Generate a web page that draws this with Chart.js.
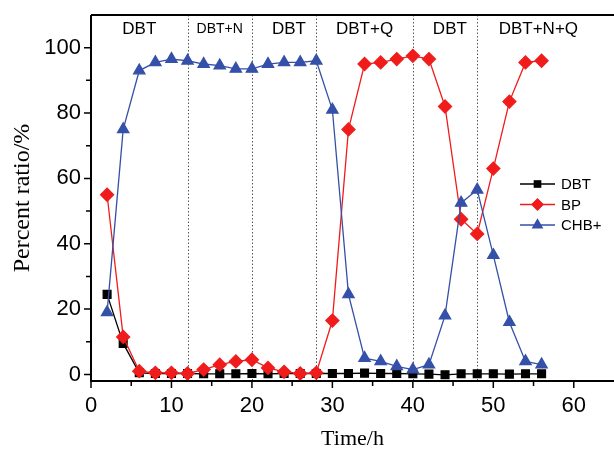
<!DOCTYPE html>
<html>
<head>
<meta charset="utf-8">
<script src="https://cdn.jsdelivr.net/npm/chart.js@4"></script>
<style>
  html, body { margin: 0; padding: 0; background: #fff; }
  canvas { display: block; }
</style>
</head>
<body>
<canvas id="myChart" width="614" height="452"></canvas>
<script>
// data
const hours = [2, 4, 6, 8, 10, 12, 14, 16, 18, 20, 22, 24, 26, 28, 30, 32, 34, 36, 38, 40, 42, 44, 46, 48, 50, 52, 54, 56];
const dbt = [24.5, 9.5, 0.5, 0.3, 0.3, 0.3, 0.2, 0.2, 0.2, 0.3, 0.2, 0.3, 0.3, 0.3, 0.3, 0.3, 0.4, 0.3, 0.3, 0.2, 0.1, -0.1, 0.2, 0.2, 0.2, 0.1, 0.2, 0.2];
const bp = [55, 11.5, 1, 0.5, 0.5, 0.3, 1.5, 3, 4, 4.5, 2, 0.8, 0.3, 0.5, 16.5, 75, 95, 95.5, 96.5, 97.5, 96.5, 82, 47.5, 43, 63, 83.5, 95.5, 96];
const chb = [19, 75, 93, 95.5, 96.5, 96, 95, 94.5, 93.5, 93.5, 95, 95.5, 95.5, 96, 81, 24.5, 5, 4, 2.5, 1.5, 3, 18, 52.5, 56.5, 36.5, 16, 4, 3];

const xTicks = [0, 5, 10, 15, 20, 25, 30, 35, 40, 45, 50, 55, 60];
const yTicks = [0, 10, 20, 30, 40, 50, 60, 70, 80, 90, 100];

// stage boundaries (h) and stage labels
const stageLines = [12, 20, 28, 40, 48];
const stageNames = ['DBT', 'DBT+N', 'DBT', 'DBT+Q', 'DBT', 'DBT+N+Q'];
const stageCenters = [6, 16, 24.6, 34, 44.6, 55.6];

const seriesNames = ['DBT', 'BP', 'CHB+'];

const RED = '#f01c1c';
const BLUE = '#3550a8';
const SANS = "'Liberation Sans', Arial, sans-serif";
const SERIF = "'Liberation Serif', 'Times New Roman', serif";

function pts(ys) {
  return hours.map((h, i) => ({ x: h, y: ys[i] }));
}

// frame, ticks, dotted stage lines, stage labels and legend
const extras = {
  id: 'extras',
  beforeDatasetsDraw(chart) {
    const { ctx, chartArea: a, scales: { x, y } } = chart;
    ctx.save();
    // dotted stage lines
    ctx.strokeStyle = '#555';
    ctx.lineWidth = 1;
    ctx.setLineDash([1.5, 2]);
    stageLines.forEach(v => {
      const px = Math.round(x.getPixelForValue(v)) + 0.5;
      ctx.beginPath();
      ctx.moveTo(px, a.top);
      ctx.lineTo(px, a.bottom);
      ctx.stroke();
    });
    ctx.setLineDash([]);
    // stage labels
    ctx.fillStyle = '#000';
    ctx.textAlign = 'center';
    ctx.textBaseline = 'middle';
    stageNames.forEach((name, i) => {
      ctx.font = (name === 'DBT+N' ? '14px ' : '17px ') + SANS;
      ctx.fillText(name, x.getPixelForValue(stageCenters[i]), 29);
    });
    ctx.restore();
  },
  afterDraw(chart) {
    const { ctx, chartArea: a, scales: { x, y } } = chart;
    ctx.save();
    ctx.strokeStyle = '#000';
    ctx.lineWidth = 2;
    // axes frame (left, bottom, top)
    ctx.beginPath();
    ctx.moveTo(a.left, a.top);
    ctx.lineTo(a.left, a.bottom);
    ctx.lineTo(a.right, a.bottom);
    ctx.moveTo(a.left, a.top);
    ctx.lineTo(a.right, a.top);
    ctx.stroke();
    // ticks, pointing outwards
    ctx.lineWidth = 1.5;
    ctx.beginPath();
    yTicks.forEach(v => {
      const py = y.getPixelForValue(v);
      const len = v % 20 === 0 ? 7 : 5;
      ctx.moveTo(a.left, py);
      ctx.lineTo(a.left - len, py);
    });
    xTicks.forEach(v => {
      const px = x.getPixelForValue(v);
      const len = v % 10 === 0 ? 7 : 5;
      ctx.moveTo(px, a.bottom);
      ctx.lineTo(px, a.bottom + len);
    });
    ctx.stroke();

    // legend
    const lx = 520, ly = 184, step = 20.5;
    chart.data.datasets.forEach((ds, i) => {
      const yy = ly + i * step;
      ctx.strokeStyle = ds.borderColor;
      ctx.lineWidth = 1.3;
      ctx.beginPath();
      ctx.moveTo(lx, yy);
      ctx.lineTo(lx + 35, yy);
      ctx.stroke();
      Chart.helpers.drawPoint(ctx, {
        pointStyle: ds.pointStyle,
        radius: ds.pointRadius - 1,
        borderWidth: 1
      }, lx + 17.5, yy);
      ctx.fillStyle = ds.pointBackgroundColor;
      ctx.fill();
      ctx.fillStyle = '#000';
      ctx.font = '15px ' + SANS;
      ctx.textAlign = 'left';
      ctx.textBaseline = 'middle';
      ctx.fillText(seriesNames[i], lx + 41, yy + 1);
    });
    ctx.restore();
  }
};

const ctx = document.getElementById('myChart').getContext('2d');

let myChart = new Chart(ctx, {
  type: 'line',
  data: {
    datasets: [
      {
        label: seriesNames[0],
        data: pts(dbt),
        borderColor: '#000',
        backgroundColor: '#000',
        pointBackgroundColor: '#000',
        pointBorderColor: '#000',
        pointStyle: 'rect',
        pointRadius: 5.5,
        borderWidth: 1.3,
        order: 3
      },
      {
        label: seriesNames[1],
        data: pts(bp),
        borderColor: RED,
        backgroundColor: RED,
        pointBackgroundColor: RED,
        pointBorderColor: RED,
        pointStyle: 'rectRot',
        pointRadius: 6.5,
        borderWidth: 1.3,
        order: 2
      },
      {
        label: seriesNames[2],
        data: pts(chb),
        borderColor: BLUE,
        backgroundColor: BLUE,
        pointBackgroundColor: BLUE,
        pointBorderColor: BLUE,
        pointStyle: 'triangle',
        pointRadius: 6.5,
        borderWidth: 1.3,
        order: 1
      }
    ]
  },
  options: {
    responsive: false,
    animation: false,
    layout: { autoPadding: false, padding: { top: 15, right: 0, left: 0, bottom: 0 } },
    plugins: {
      legend: { display: false },
      tooltip: { enabled: false }
    },
    scales: {
      x: {
        type: 'linear',
        min: 0,
        max: 65,
        afterBuildTicks: s => { s.ticks = xTicks.map(v => ({ value: v })); },
        afterFit: s => { s.height = 71; s.paddingLeft = 0; s.paddingRight = 0; },
        grid: { display: true, drawOnChartArea: false, drawTicks: false },
        border: { display: false },
        ticks: {
          padding: 12,
          color: '#000',
          font: { family: SANS, size: 22 },
          autoSkip: false,
          maxRotation: 0,
          callback: v => (v % 10 === 0 ? v : '')
        },
        title: {
          display: true,
          text: 'Time/h',
          color: '#000',
          font: { family: SERIF, size: 22 },
          padding: { top: 0, bottom: 0 }
        }
      },
      y: {
        min: -2,
        max: 110,
        afterBuildTicks: s => { s.ticks = yTicks.map(v => ({ value: v })); },
        afterFit: s => { s.width = 91; s.paddingTop = 0; s.paddingBottom = 0; },
        grid: { display: true, drawOnChartArea: false, drawTicks: false },
        border: { display: false },
        ticks: {
          padding: 10,
          color: '#000',
          font: { family: SANS, size: 22 },
          autoSkip: false,
          callback: v => (v % 20 === 0 ? v : '')
        },
        title: {
          display: true,
          text: 'Percent ratio/%',
          color: '#000',
          font: { family: SERIF, size: 24 },
          padding: { top: 8, bottom: 0 }
        }
      }
    }
  },
  plugins: [extras]
});
</script>
</body>
</html>
